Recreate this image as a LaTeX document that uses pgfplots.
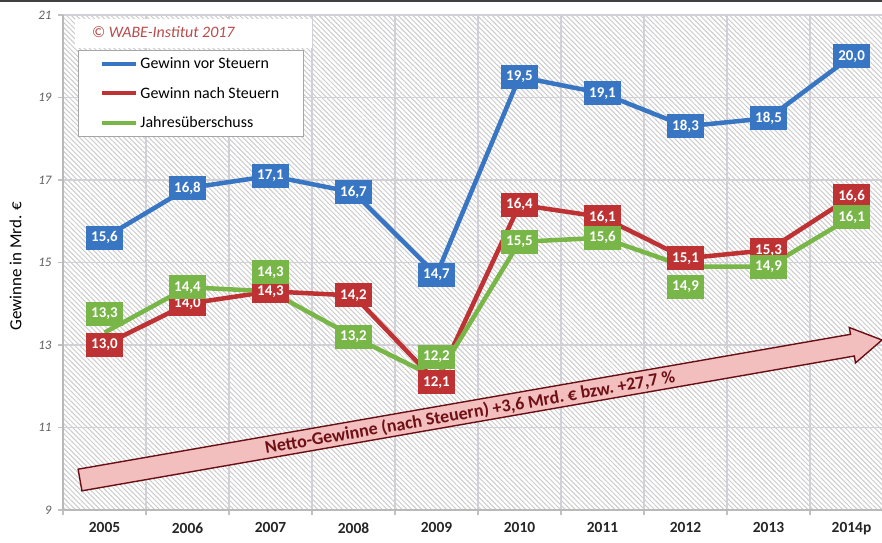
\documentclass[border=0pt]{standalone}
\usepackage{pgfplots}
\pgfplotsset{compat=1.18}
\usepackage{pgfplotstable}
\usepackage{fontspec}
\setmainfont{Carlito}
\usetikzlibrary{patterns.meta}

\definecolor{cblue}{RGB}{56,117,195}
\definecolor{cred}{RGB}{190,50,52}
\definecolor{cgreen}{RGB}{120,182,72}
\definecolor{gridc}{RGB}{208,208,214}
\definecolor{arrfill}{RGB}{242,190,190}
\definecolor{arrdraw}{RGB}{105,15,20}
\definecolor{arrtext}{RGB}{110,15,20}
\definecolor{copyc}{RGB}{185,75,75}

\pgfplotstableread{
x y dy lab
0 15.6 0 15,6
1 16.8 0 16,8
2 17.1 0 17,1
3 16.7 0 16,7
4 14.7 0 14,7
5 19.5 0 19,5
6 19.1 0 19,1
7 18.3 0 18,3
8 18.5 0 18,5
9 20.0 0 20,0
}\tblue
\pgfplotstableread{
x y dy lab
0 13.0 0 13,0
1 14.0 0 14,0
2 14.3 0 14,3
3 14.2 0 14,2
4 12.1 0 12,1
5 16.4 0 16,4
6 16.1 0 16,1
7 15.1 0 15,1
8 15.3 0 15,3
9 16.6 0 16,6
}\tred
\pgfplotstableread{
x y dy lab
0 13.3 19 13,3
1 14.4 0 14,4
2 14.3 19 14,3
3 13.2 0 13,2
4 12.2 21 12,2
5 15.5 0 15,5
6 15.6 0 15,6
7 14.9 -20 14,9
8 14.9 0 14,9
9 16.1 0 16,1
}\tgreen

\pgfplotsset{
  lbl/.style={draw=none, mark=none, forget plot,
    nodes near coords, point meta=explicit symbolic,
    visualization depends on={\thisrow{dy}\as\dy},
    nodes near coords style={anchor=center, yshift=\dy*1bp, fill=#1, text=white,
      font=\bfseries\fontsize{15}{17}\selectfont, inner xsep=5.5bp, inner ysep=0bp,
      minimum height=24bp}},
}

\begin{document}
\begin{tikzpicture}
\path[use as bounding box, fill=white] (-63bp,-33bp) rectangle (819bp,510bp);
\begin{axis}[
  scale only axis, width=819bp, height=495bp,
  xmin=-0.5, xmax=9.367, ymin=9, ymax=21,
  clip=false,
  axis lines*=left,
  axis line style={draw=gray!55, line width=1.2bp},
  ytick={9,11,...,21},
  xtick={-0.5,0.5,...,9.5}, xticklabels={},
  extra x ticks={0,1,2,3,4,5,6,7,8,9},
  extra x tick labels={2005,2006,2007,2008,2009,2010,2011,2012,2013,2014p},
  extra x tick style={grid=none, major tick length=0bp},
  xmajorgrids=true, ymajorgrids=true,
  grid style={gridc, line width=1.8bp},
  tick align=outside, major tick length=5bp,
  tick style={gridc!80!gray, line width=1.2bp},
  /pgf/number format/assume math mode=true,
  yticklabel style={font=\itshape\fontsize{13}{14}\selectfont, text=gray!75!black, xshift=-3bp},
  xticklabel style={font=\bfseries\fontsize{15.5}{17}\selectfont, text=black!85, yshift=-9bp},
  ylabel={Gewinne in Mrd. €},
  ylabel style={font=\fontsize{17}{19}\selectfont, at={(axis description cs:-0.058,0.493)}, anchor=center},
  axis background/.style={pattern={Lines[angle=-45,distance=3.5bp,line width=1bp]}, pattern color=gray!40},
  legend style={at={(axis description cs:0.0183,0.929)}, anchor=north west,
    draw=gray!70, line width=1bp, fill=white, inner xsep=22bp, inner ysep=5bp,
    font=\fontsize{16}{18}\selectfont, row sep=13bp},
  legend cell align=left,
  legend image code/.code={\draw[#1, line width=4bp] (0bp,0bp) -- (34bp,0bp);},
]
\fill[white] (axis description cs:0.01465,0.9919) rectangle (axis description cs:0.304,0.9333);
\node[anchor=west, text=copyc, font=\itshape\fontsize{16}{18}\selectfont] at (axis description cs:0.031,0.9657) {© WABE-Institut 2017};
\filldraw[fill=arrfill, draw=arrdraw, line width=1.4bp, line join=miter]
  (axis cs:-0.318,9.989) -- (axis cs:8.988,13.259) -- (axis cs:8.973,13.424) -- (axis cs:9.367,13.121)
  -- (axis cs:9.048,12.566) -- (axis cs:9.034,12.733) -- (axis cs:-0.272,9.465) -- cycle;
\node[rotate=9.9, font=\bfseries\fontsize{18}{20}\selectfont, text=arrtext] at (axis cs:4.404,11.352) {Netto-Gewinne (nach Steuern) +3,6 Mrd.\ € bzw.\ +27,7 \%};

\addplot[cblue, line width=4.5bp, line join=round] table[x=x,y=y] {\tblue};
\addlegendentry{Gewinn vor Steuern}
\addplot[cred, line width=4.5bp, line join=round] table[x=x,y=y] {\tred};
\addlegendentry{Gewinn nach Steuern}
\addplot[cgreen, line width=4.5bp, line join=round] table[x=x,y=y] {\tgreen};
\addlegendentry{Jahresüberschuss}

\addplot[lbl=cblue] table[x=x,y=y,meta=lab] {\tblue};
\addplot[lbl=cred] table[x=x,y=y,meta=lab] {\tred};
\addplot[lbl=cgreen] table[x=x,y=y,meta=lab] {\tgreen};
\end{axis}
\draw[gray!50!black, line width=2.5bp] (-63bp,509bp) -- (819bp,509bp);
\end{tikzpicture}
\end{document}
